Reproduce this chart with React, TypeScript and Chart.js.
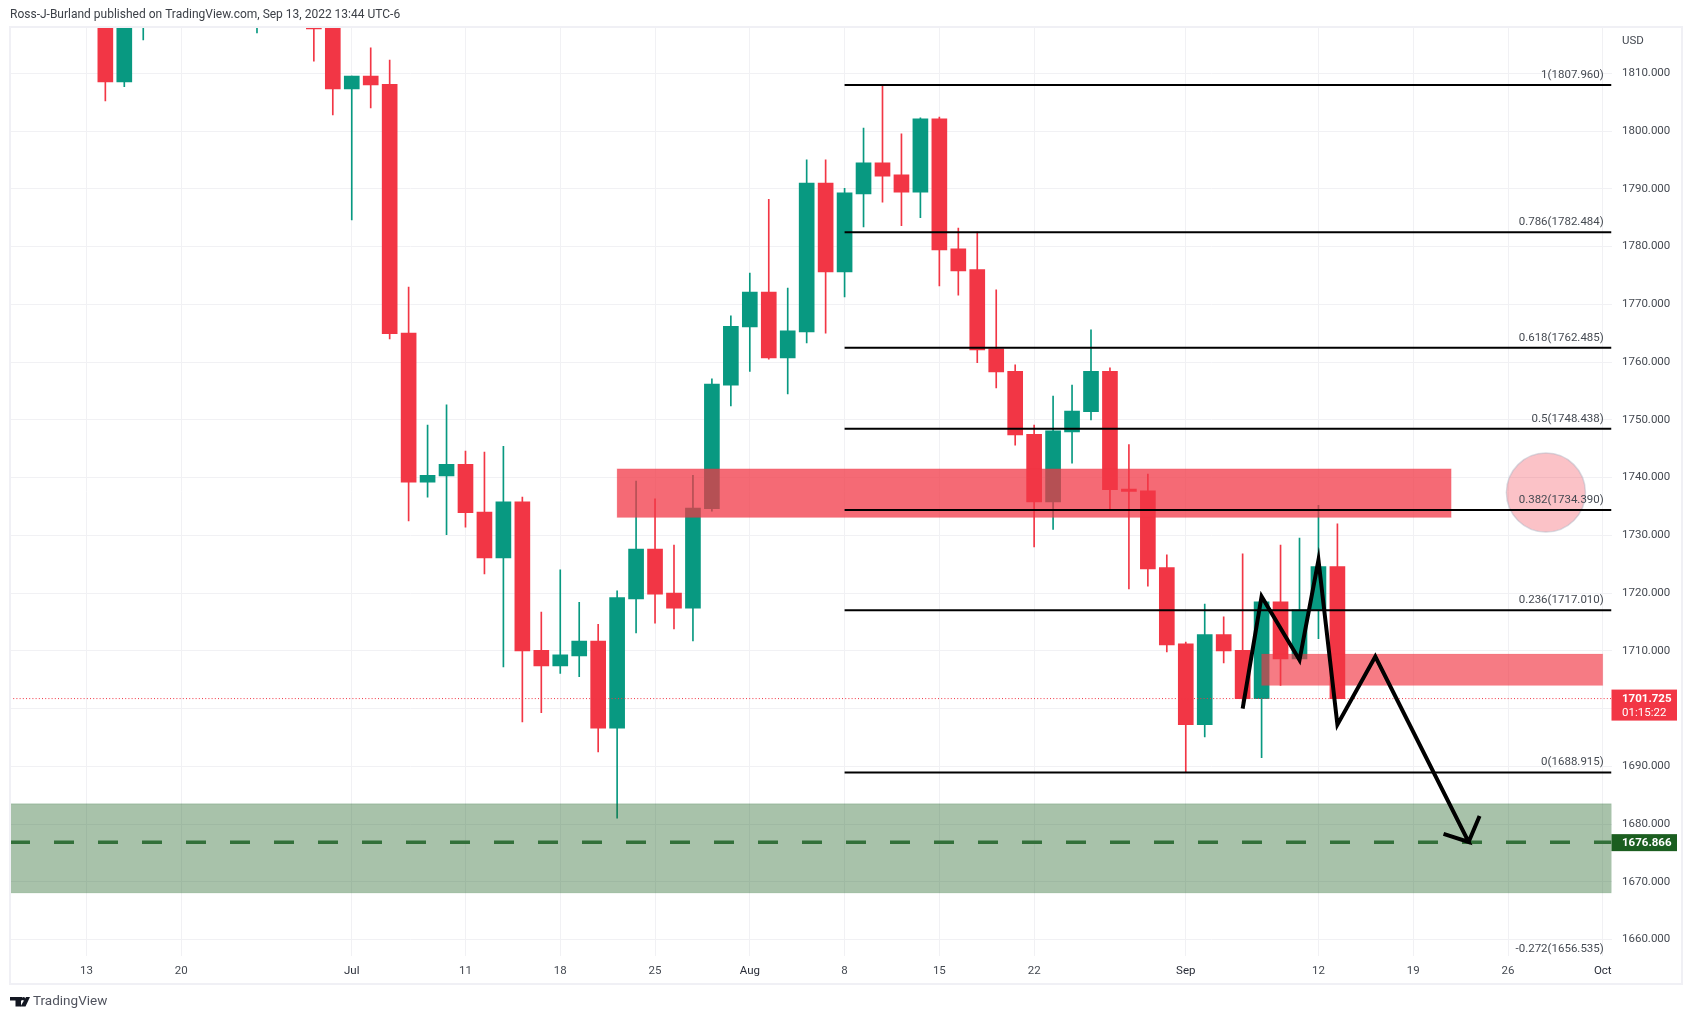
import { useEffect, useRef } from 'react';
import Chart from 'chart.js/auto';

// index 0 = Jun 13, one step per trading day
const barIndex = [1, 2, 3, 9, 12, 13, 14, 15, 16, 17, 18, 19, 20, 21, 22, 23, 24, 25, 26, 27, 28, 29, 30, 31, 32, 33, 34, 35, 36, 37, 38, 39, 40, 41, 42, 43, 44, 45, 46, 47, 48, 49, 50, 51, 52, 53, 54, 55, 56, 57, 58, 59, 60, 61, 62, 63, 64, 65, 66];
const opens = [1826, 1808.5, 1822, 1825, 1820, 1817.8, 1807.3, 1809.5, 1808.1, 1765, 1739.2, 1740.3, 1742.3, 1734, 1726.1, 1735.8, 1710.1, 1707.4, 1709.1, 1711.7, 1696.6, 1719, 1727.6, 1720, 1717.4, 1734.6, 1756, 1766.1, 1772.1, 1760.7, 1765.2, 1791, 1775.6, 1789.1, 1794.5, 1792.4, 1789.4, 1802.1, 1779.6, 1776, 1762.3, 1758.4, 1747.5, 1735.8, 1747.9, 1751.4, 1758.4, 1738, 1737.7, 1724.4, 1711.2, 1697.2, 1712.8, 1710.1, 1701.7, 1718.5, 1708.6, 1717.1, 1724.6];
const closes = [1808.5, 1826, 1828, 1830, 1817.7, 1807.3, 1809.5, 1808, 1764.9, 1739.2, 1740.4, 1742.3, 1733.9, 1726.1, 1735.8, 1710, 1707.4, 1709.3, 1711.7, 1696.6, 1719.2, 1727.6, 1719.8, 1717.4, 1734.7, 1756.2, 1766.2, 1772.1, 1760.7, 1765.4, 1791, 1775.6, 1789.3, 1794.5, 1792.2, 1789.4, 1802.1, 1779.4, 1775.8, 1762.1, 1758.3, 1747.4, 1735.8, 1748.1, 1751.5, 1758.4, 1737.9, 1737.6, 1724.2, 1711, 1697.2, 1712.8, 1710, 1701.7, 1718.5, 1708.6, 1717.1, 1724.6, 1701.725];
const highs = [1830, 1829, 1832, 1833, 1824, 1819, 1809.5, 1814.4, 1812.3, 1773, 1749.1, 1752.6, 1744.6, 1744.4, 1745.4, 1736.6, 1716.7, 1724, 1718.4, 1714.6, 1720.4, 1739.4, 1736.3, 1728.3, 1740.4, 1757.1, 1768, 1775.4, 1788.2, 1772.8, 1795, 1795, 1790.1, 1800.5, 1808, 1799.5, 1802.3, 1802.4, 1783.2, 1782.5, 1772.5, 1759.5, 1749.1, 1754.1, 1756, 1765.6, 1759, 1745.7, 1740.6, 1726.6, 1711.5, 1718.1, 1715.9, 1726.8, 1718.7, 1728.3, 1729.5, 1735.2, 1732];
const lows = [1805.2, 1807.7, 1815.8, 1817, 1812.1, 1802.8, 1784.6, 1804, 1764, 1732.5, 1736.6, 1730.1, 1731.4, 1723.3, 1707.2, 1697.7, 1699.3, 1706.1, 1705.5, 1692.5, 1681, 1713.1, 1714.8, 1713.8, 1711.7, 1734.2, 1752.4, 1758.4, 1760.5, 1754.5, 1763.3, 1765, 1771.3, 1783.4, 1787.7, 1783.6, 1785, 1773.2, 1771.6, 1759.9, 1755.5, 1745.6, 1728, 1731, 1742.5, 1750, 1734.6, 1720.7, 1721.2, 1709.8, 1689, 1695.1, 1707.9, 1701, 1691.5, 1704, 1708, 1712.1, 1701.7];

const xTickValues = [0, 5, 14, 20, 25, 30, 35, 40, 45, 50, 58, 65, 70, 75, 80];
const xTickLabels = ['13', '20', 'Jul', '11', '18', '25', 'Aug', '8', '15', '22', 'Sep', '12', '19', '26', 'Oct'];
const monthLabels = ['Jul', 'Aug', 'Sep', 'Oct'];
const yTickValues = [1660, 1670, 1680, 1690, 1700, 1710, 1720, 1730, 1740, 1750, 1760, 1770, 1780, 1790, 1800, 1810];

const fibRatios = ['1', '0.786', '0.618', '0.5', '0.382', '0.236', '0'];
const fibPrices = [1807.96, 1782.484, 1762.485, 1748.438, 1734.39, 1717.01, 1688.915];
const fibStart = 40;
const lowerFibRatio = '-0.272';
const lowerFibPrice = 1656.535;

const zoneFrom = [28, 62, -4.03];
const zoneTo = [72, 80, 80.46];
const zoneTop = [1741.5, 1709.45, 1683.5];
const zoneBottom = [1733.1, 1704, 1668.1];
const zoneFill = ['rgba(242,54,69,0.74)', 'rgba(242,54,69,0.66)', 'rgba(27,94,32,0.38)'];
const zoneEdge = ['rgba(242,54,69,0.2)', 'rgba(242,54,69,0.1)', 'rgba(27,94,32,0.2)'];

const pathIndex = [61, 62, 64, 65, 66, 68, 72.92, 71.6, 72.92, 73.5];
const pathPrice = [1700, 1719.4, 1708.4, 1725.7, 1697.2, 1709, 1676.9, 1678.3, 1676.9, 1681.4];

const lastPrice = 1701.725;
const countdown = '01:15:22';
const targetPrice = 1676.866;

const X_MIN = -4.03;
const X_MAX = 80.46;
const UP = '#089981';
const DOWN = '#F23645';
const TEXT = '#454a52';
const FONT = 'Roboto, sans-serif';

const overlay = {
  id: 'overlay',
  afterDatasetDraw(chart: any, args: any) {
    // zones sit on top of the candles but under the drawn lines
    if (chart.data.datasets[args.index].label !== 'bodies') return;
    const { ctx, chartArea, scales } = chart;
    ctx.save();
    ctx.beginPath();
    ctx.rect(chartArea.left, chartArea.top, chartArea.width, chartArea.height);
    ctx.clip();
    zoneFrom.forEach((from, i) => {
      const x0 = scales.x.getPixelForValue(from);
      const x1 = scales.x.getPixelForValue(zoneTo[i]);
      const y0 = scales.y.getPixelForValue(zoneTop[i]);
      const y1 = scales.y.getPixelForValue(zoneBottom[i]);
      ctx.fillStyle = zoneFill[i];
      ctx.fillRect(x0, y0, x1 - x0, y1 - y0);
      ctx.strokeStyle = zoneEdge[i];
      ctx.strokeRect(x0, y0, x1 - x0, y1 - y0);
    });
    ctx.restore();
  },
  afterDraw(chart: any) {
    const { ctx, chartArea, scales } = chart;
    const labelRight = scales.x.getPixelForValue(80) + 1;
    ctx.save();

    // fib labels
    ctx.font = `11.5px ${FONT}`;
    ctx.fillStyle = TEXT;
    ctx.textAlign = 'right';
    ctx.textBaseline = 'middle';
    fibPrices.forEach((price, i) => {
      ctx.fillText(`${fibRatios[i]}(${price.toFixed(3)})`, labelRight, scales.y.getPixelForValue(price) - 10);
    });
    ctx.fillText(`${lowerFibRatio}(${lowerFibPrice.toFixed(3)})`, labelRight, scales.y.getPixelForValue(lowerFibPrice) - 10);

    // frame
    ctx.strokeStyle = '#f0f0f5';
    ctx.lineWidth = 2;
    ctx.strokeRect(10, 27, 1672, 957);

    // price tags
    const tagLeft = chartArea.right;
    const lastY = scales.y.getPixelForValue(lastPrice);
    ctx.fillStyle = DOWN;
    ctx.fillRect(tagLeft, lastY - 9, 65.5, 31);
    const targetY = scales.y.getPixelForValue(targetPrice);
    ctx.fillStyle = '#1B5E20';
    ctx.fillRect(tagLeft, targetY - 8, 65.5, 17);
    ctx.textAlign = 'left';
    ctx.fillStyle = '#ffffff';
    ctx.font = `bold 11.5px ${FONT}`;
    ctx.fillText(lastPrice.toFixed(3), 1622, lastY + 0.5);
    ctx.fillText(targetPrice.toFixed(3), 1622, targetY + 0.5);
    ctx.font = `11.5px ${FONT}`;
    ctx.fillText(countdown, 1622, lastY + 14.5);

    // header, currency, footer
    ctx.fillStyle = TEXT;
    ctx.fillText('USD', 1622, 41);
    ctx.fillStyle = '#3c4047';
    ctx.font = `12px ${FONT}`;
    ctx.fillText('Ross-J-Burland published on TradingView.com, Sep 13, 2022 13:44 UTC-6', 10, 15);
    ctx.font = `13.5px ${FONT}`;
    ctx.fillStyle = '#50535e';
    ctx.fillText('TradingView', 33, 1002);

    // logo
    ctx.fillStyle = '#131722';
    ctx.fillRect(10, 997, 12, 3.5);
    ctx.fillRect(15.5, 997, 5.5, 9.5);
    ctx.beginPath();
    ctx.arc(23.5, 998.8, 1.8, 0, Math.PI * 2);
    ctx.fill();
    ctx.beginPath();
    ctx.moveTo(26, 997);
    ctx.lineTo(30, 997);
    ctx.lineTo(25.5, 1006.5);
    ctx.lineTo(20.5, 1006.5);
    ctx.closePath();
    ctx.fill();
    ctx.restore();
  },
};

function flatLine(price: number, from: number) {
  return [
    { x: from, y: price },
    { x: X_MAX, y: price },
  ];
}

export default function App() {
  const canvasRef = useRef<HTMLCanvasElement | null>(null);

  useEffect(() => {
    const canvas = canvasRef.current;
    if (!canvas) return;

    const candleColors = barIndex.map((_, i) => (closes[i] >= opens[i] ? UP : DOWN));

    const chart = new Chart(canvas, {
      type: 'bar',
      data: {
        datasets: [
          {
            type: 'line',
            label: 'path',
            data: pathIndex.map((x, i) => ({ x, y: pathPrice[i] })),
            borderColor: '#000000',
            borderWidth: 4,
            borderJoinStyle: 'miter',
            pointRadius: 0,
            tension: 0,
            order: 1,
          },
          ...fibPrices.map((price, i) => ({
            type: 'line',
            label: `fib ${fibRatios[i]}`,
            data: flatLine(price, fibStart),
            borderColor: '#000000',
            borderWidth: 2,
            pointRadius: 0,
            order: 2,
          })),
          {
            type: 'line',
            label: 'target',
            data: flatLine(targetPrice, X_MIN),
            borderColor: '#33703a',
            borderWidth: 3.5,
            borderDash: [20, 24],
            pointRadius: 0,
            order: 3,
          },
          {
            type: 'line',
            label: 'last',
            data: flatLine(lastPrice, X_MIN),
            borderColor: DOWN,
            borderWidth: 1,
            borderDash: [1, 2.2],
            pointRadius: 0,
            order: 3,
          },
          {
            type: 'bubble',
            label: 'marker',
            data: [{ x: 77, y: 1737.4, r: 39.5 }],
            backgroundColor: 'rgba(242,54,69,0.3)',
            borderColor: 'rgba(170,175,190,0.45)',
            borderWidth: 1.5,
            order: 4,
          },
          {
            label: 'bodies',
            data: barIndex.map((x, i) => ({ x, y: [opens[i], closes[i]] })),
            backgroundColor: candleColors,
            borderWidth: 0,
            barThickness: 15,
            grouped: false,
            order: 5,
          },
          {
            label: 'wicks',
            data: barIndex.map((x, i) => ({ x, y: [lows[i], highs[i]] })),
            backgroundColor: candleColors,
            borderWidth: 0,
            barThickness: 1,
            grouped: false,
            order: 6,
          },
        ] as any,
      },
      options: {
        animation: false,
        responsive: false,
        events: [],
        layout: { autoPadding: false, padding: { left: 10, top: 27, right: 10.5, bottom: 36 } },
        plugins: { legend: { display: false }, tooltip: { enabled: false } },
        scales: {
          x: {
            type: 'linear',
            min: X_MIN,
            max: X_MAX,
            offset: false,
            grid: { color: '#f1f1f4', offset: false, drawTicks: false },
            border: { display: false },
            afterBuildTicks: (scale: any) => {
              scale.ticks = xTickValues.map((value) => ({ value }));
            },
            afterFit: (scale: any) => {
              scale.height = 27;
              scale.paddingLeft = 0;
              scale.paddingRight = 0;
            },
            ticks: {
              autoSkip: false,
              maxRotation: 0,
              padding: 8,
              font: { family: FONT, size: 11.5 },
              color: (ctx: any) => (monthLabels.includes(xTickLabels[ctx.index]) ? '#2a2e39' : TEXT),
              callback: (_value: any, index: number) => xTickLabels[index],
            },
          },
          y: {
            type: 'linear',
            position: 'right',
            min: 1657.15,
            max: 1818.02,
            grid: { color: '#f1f1f4', drawTicks: false },
            border: { display: false },
            afterBuildTicks: (scale: any) => {
              scale.ticks = yTickValues.map((value) => ({ value }));
            },
            afterFit: (scale: any) => {
              scale.width = 70;
              scale.paddingTop = 0;
              scale.paddingBottom = 0;
            },
            ticks: {
              padding: 10.5,
              font: { family: FONT, size: 11.5 },
              color: TEXT,
              callback: (value: any) => Number(value).toFixed(3),
            },
          },
        },
      } as any,
      plugins: [overlay],
    });

    return () => chart.destroy();
  }, []);

  return (
    <div style={{ position: 'fixed', left: 0, top: 0, width: 1692, height: 1019, background: '#ffffff' }}>
      <canvas ref={canvasRef} width={1692} height={1019} style={{ display: 'block', width: 1692, height: 1019 }} />
    </div>
  );
}
